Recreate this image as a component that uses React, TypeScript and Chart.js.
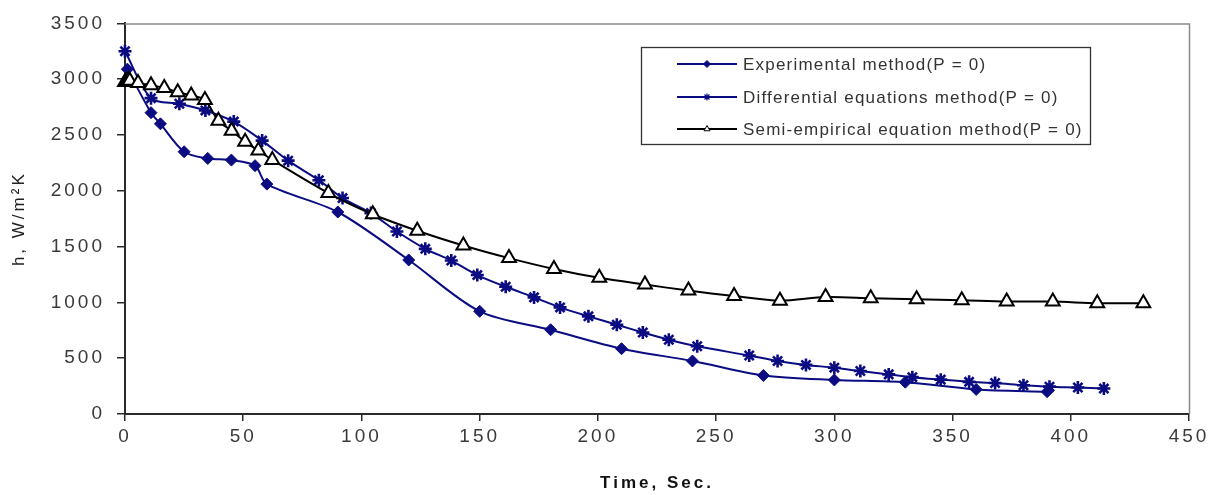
import React, { useEffect, useRef } from "react";
import { Chart, registerables } from "chart.js";
import { drawPoint } from "chart.js/helpers";

Chart.register(...registerables);

// ---------- data ----------
const seriesLabels = [
  "Experimental method(P = 0)",
  "Differential equations method(P = 0)",
  "Semi-empirical equation method(P = 0)",
];

const expTime = [1, 11, 15, 25, 35, 45, 55, 60, 90, 120, 150, 180, 210, 240, 270, 300, 330, 360, 390];
const expH = [3090, 2700, 2600, 2350, 2290, 2275, 2225, 2060, 1810, 1380, 920, 755, 585, 475, 345, 305, 285, 220, 200];

const diffTime = [0, 11, 23, 34, 46, 58, 69, 82, 92, 104, 115, 127, 138, 149, 161, 173, 184, 196, 208, 219, 230, 242, 264, 276, 288, 300, 311, 323, 333, 345, 357, 368, 380, 391, 403, 414];
const diffH = [3250, 2830, 2780, 2720, 2620, 2450, 2270, 2095, 1935, 1800, 1635, 1480, 1375, 1245, 1140, 1045, 955, 875, 800, 730, 665, 607, 524, 475, 440, 415, 385, 355, 330, 308, 288, 278, 258, 245, 237, 228];

const semiTime = [0, 0.5, 1, 1.5, 2, 5.5, 11, 16.6, 22.3, 28, 33.8, 39.5, 45.1, 50.8, 56.4, 62.3, 86, 104.8, 123.6, 143.1, 162.4, 181.4, 200.6, 219.9, 238.3, 257.6, 277, 296.3, 315.4, 334.8, 353.9, 372.9, 392.4, 411.2, 430.7];
const semiH = [2975, 2978, 2982, 2985, 2985, 2965, 2946, 2922, 2884, 2855, 2814, 2627, 2538, 2440, 2360, 2277, 1980, 1790, 1642, 1510, 1397, 1300, 1220, 1160, 1106, 1057, 1015, 1048, 1038, 1028, 1019, 1008, 1007, 993, 992];

const xMin = 0;
const xMax = 450;
const xStep = 50;
const yMin = 0;
const yMax = 3500;
const yStep = 500;

const xTitle = "Time, Sec.";
const yTitle = "h, W/m²K";

// ---------- styles ----------
const NAVY = "#0b0b82";
const FONT = "'Liberation Sans', Arial, sans-serif";

function pts(xs: number[], ys: number[]) {
  return xs.map((x, i) => ({ x, y: ys[i] }));
}

const frameAndSpacing = {
  id: "frameAndSpacing",
  beforeDraw(chart: any) {
    chart.ctx.letterSpacing = "3px";
  },
  beforeDatasetsDraw(chart: any) {
    const { ctx, chartArea } = chart;
    ctx.save();
    ctx.strokeStyle = "#8a8a8a";
    ctx.lineWidth = 1.5;
    ctx.beginPath();
    ctx.moveTo(chartArea.left, chartArea.top + 0.5);
    ctx.lineTo(chartArea.right + 0.5, chartArea.top + 0.5);
    ctx.lineTo(chartArea.right + 0.5, chartArea.bottom);
    ctx.stroke();
    ctx.restore();
  },
  afterDraw(chart: any) {
    const ctx = chart.ctx;
    ctx.save();
    ctx.letterSpacing = "1.2px";
    const boxL = 641, boxT = 47, boxR = 1090, boxB = 144;
    ctx.fillStyle = "#ffffff";
    ctx.fillRect(boxL, boxT, boxR - boxL, boxB - boxT);
    ctx.strokeStyle = "#333333";
    ctx.lineWidth = 1.3;
    ctx.strokeRect(boxL + 0.5, boxT + 0.5, boxR - boxL, boxB - boxT);
    const rowY = [64, 97, 129];
    chart.data.datasets.forEach((ds: any, i: number) => {
      const y = rowY[i];
      ctx.strokeStyle = ds.borderColor;
      ctx.lineWidth = 2;
      ctx.beginPath();
      ctx.moveTo(677, y);
      ctx.lineTo(737, y);
      ctx.stroke();
      ctx.fillStyle = ds.pointBackgroundColor;
      ctx.strokeStyle = ds.pointBorderColor;
      ctx.lineWidth = ds.legendPointBorderWidth;
      drawPoint(ctx, { pointStyle: ds.pointStyle, radius: ds.legendPointRadius, borderWidth: ds.legendPointBorderWidth, rotation: 0 }, 707, y);
      ctx.fillStyle = "#333333";
      ctx.font = `17px ${FONT}`;
      ctx.textAlign = "left";
      ctx.textBaseline = "middle";
      ctx.fillText(ds.label, 743, y + 1);
    });
    ctx.restore();
    ctx.letterSpacing = "0px";
  },
};

export default function App() {
  const ref = useRef<HTMLCanvasElement | null>(null);

  useEffect(() => {
    if (!ref.current) return;
    const chart = new Chart(ref.current, {
      type: "line",
      data: {
        datasets: [
          {
            label: seriesLabels[0],
            data: pts(expTime, expH),
            borderColor: NAVY,
            backgroundColor: NAVY,
            borderWidth: 2,
            pointStyle: "rectRot",
            pointRadius: 6,
            pointBackgroundColor: NAVY,
            pointBorderColor: NAVY,
            pointBorderWidth: 1,
            tension: 0.3,
            clip: false,
            order: 2,
            legendPointRadius: 3.5,
            legendPointBorderWidth: 1,
          } as any,
          {
            label: seriesLabels[1],
            data: pts(diffTime, diffH),
            borderColor: NAVY,
            backgroundColor: NAVY,
            borderWidth: 2,
            pointStyle: "star",
            pointRadius: 6.5,
            pointBackgroundColor: NAVY,
            pointBorderColor: NAVY,
            pointBorderWidth: 2.6,
            tension: 0.3,
            clip: false,
            order: 1,
            legendPointRadius: 3.5,
            legendPointBorderWidth: 1.2,
          } as any,
          {
            label: seriesLabels[2],
            data: pts(semiTime, semiH),
            borderColor: "#000000",
            backgroundColor: "#ffffff",
            borderWidth: 2,
            pointStyle: "triangle",
            pointRadius: 8,
            pointBackgroundColor: "#ffffff",
            pointBorderColor: "#000000",
            pointBorderWidth: 2,
            tension: 0.3,
            clip: false,
            order: 0,
            legendPointRadius: 3.5,
            legendPointBorderWidth: 1,
          } as any,
        ],
      },
      options: {
        responsive: false,
        animation: false,
        devicePixelRatio: 1,
        layout: { padding: { top: 20, right: 30, left: 0, bottom: 0 } },
        plugins: {
          legend: { display: false },
          tooltip: { enabled: false },
        },
        scales: {
          x: {
            type: "linear",
            min: xMin,
            max: xMax,
            ticks: {
              stepSize: xStep,
              color: "#3a3a3a",
              font: { family: FONT, size: 19 },
              padding: 4,
              maxRotation: 0,
              callback: (v: any) => String(v),
            },
            grid: {
              display: true,
              drawOnChartArea: false,
              drawTicks: true,
              tickLength: 7,
              color: "#2a2a2a",
              lineWidth: 1.5,
            },
            border: { display: true, color: "#2a2a2a", width: 2 },
            title: {
              display: true,
              text: xTitle,
              color: "#111111",
              font: { family: FONT, size: 17, weight: "bold" },
              padding: { top: 0, bottom: 1 },
            },
            afterFit: (s: any) => {
              s.height = 81;
            },
          },
          y: {
            type: "linear",
            min: yMin,
            max: yMax,
            ticks: {
              stepSize: yStep,
              color: "#3a3a3a",
              font: { family: FONT, size: 19 },
              padding: 12,
              callback: (v: any) => String(v),
            },
            grid: {
              display: true,
              drawOnChartArea: false,
              drawTicks: true,
              tickLength: 8,
              color: "#2a2a2a",
              lineWidth: 1.5,
            },
            border: { display: true, color: "#2a2a2a", width: 2 },
            title: {
              display: true,
              text: yTitle,
              color: "#222222",
              font: { family: FONT, size: 17 },
              padding: { top: 9, bottom: 0 },
            },
            afterFit: (s: any) => {
              s.width = 125;
            },
          },
        },
      },
      plugins: [frameAndSpacing],
    });
    return () => chart.destroy();
  }, []);

  return (
    <div style={{ position: "fixed", left: 0, top: 0, width: 1219, height: 495, background: "#fff" }}>
      <canvas ref={ref} width={1219} height={495} style={{ display: "block", width: 1219, height: 495 }} />
    </div>
  );
}
